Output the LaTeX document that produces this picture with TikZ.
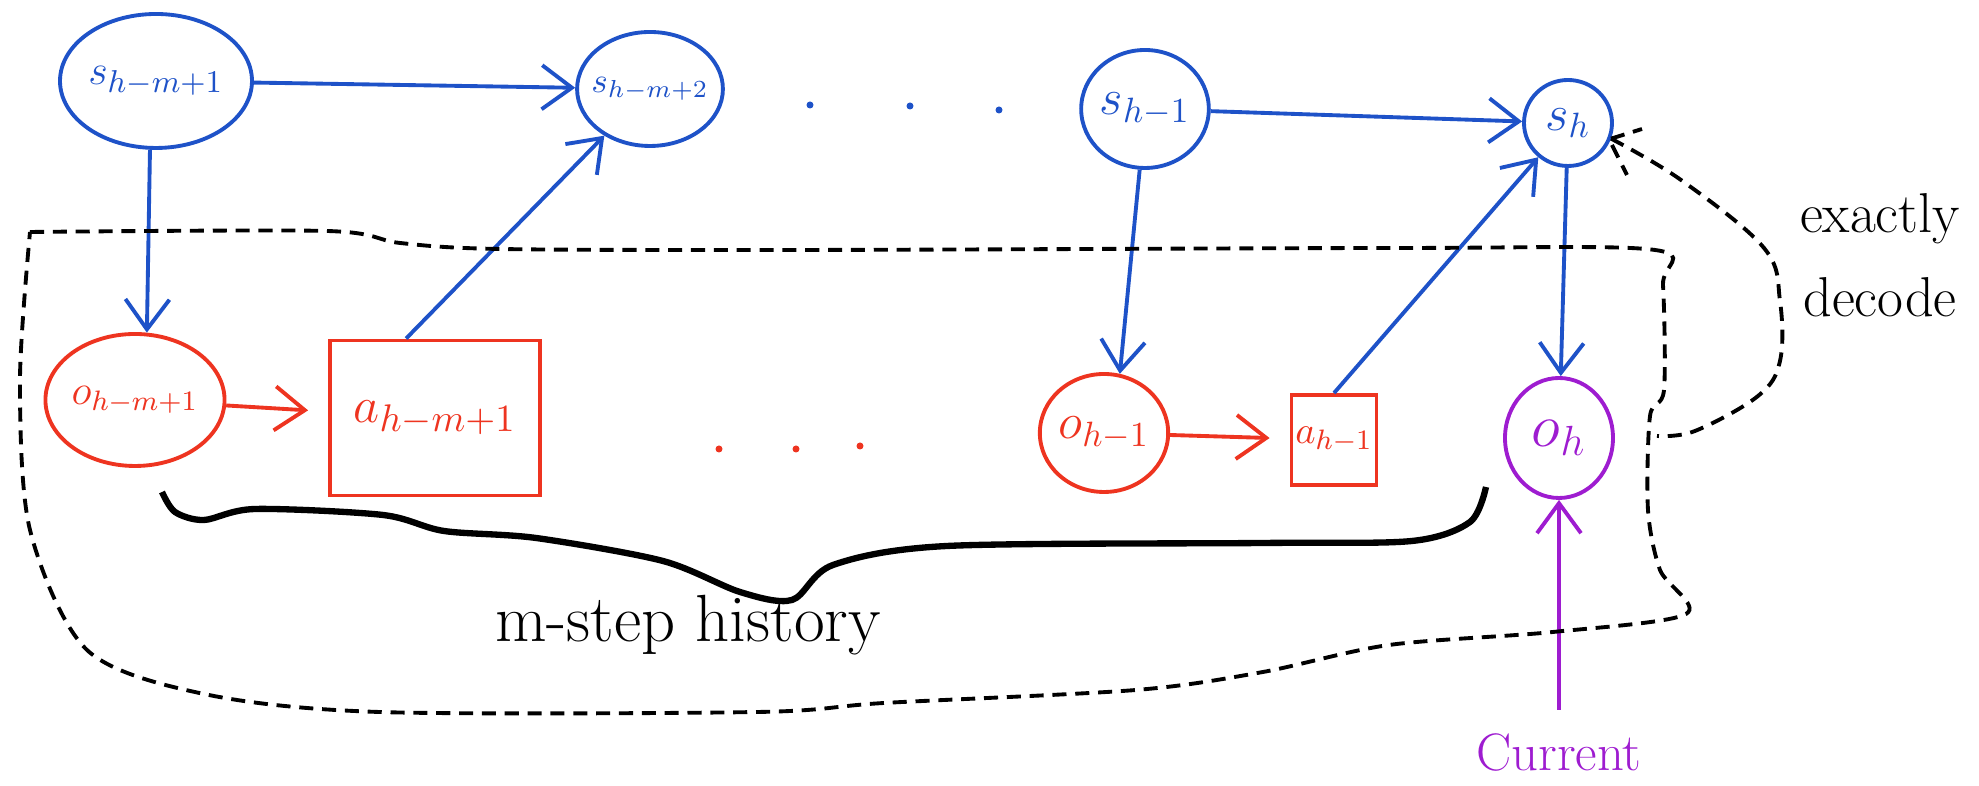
\documentclass[tikz,border=0pt]{standalone}
\usepackage{tikz}
\usetikzlibrary{positioning,arrows.meta,shapes.geometric}

\definecolor{penblue}{RGB}{30,82,200}
\definecolor{penred}{RGB}{238,52,32}
\definecolor{penpurple}{RGB}{158,28,208}

\begin{document}
\begin{tikzpicture}[->,>={Straight Barb[length=3mm,width=4.4mm]},line width=1.1pt]

  % styles
  \tikzstyle{state}=[ellipse,draw=penblue,text=penblue,inner sep=0pt]
  \tikzstyle{obs}=[ellipse,draw=penred,text=penred,inner sep=0pt]
  \tikzstyle{act}=[rectangle,draw=penred,text=penred,inner sep=1pt]
  \tikzstyle{region}=[-,black,dash pattern=on 4pt off 2.5pt,line width=1.1pt]

  \useasboundingbox (0,0) rectangle (19.79,7.86);

  % latent states
  \node[state,minimum width=1.92cm,minimum height=1.34cm,font=\fontsize{13}{15}\selectfont] (s1) at (1.56,7.05) {$s_{h-m+1}$};
  \node[state,minimum width=1.22cm,minimum height=1.14cm,inner xsep=-2pt,font=\fontsize{10}{12}\selectfont] (s2) at (6.50,6.97) {$s_{h-m+2}$};
  \node[state,minimum width=1.16cm,minimum height=1.18cm,font=\fontsize{14}{16}\selectfont] (sh1) at (11.45,6.77) {$s_{h-1}$};
  \node[state,minimum width=0.88cm,minimum height=0.86cm,font=\fontsize{14}{16}\selectfont] (sh) at (15.68,6.63) {$s_h$};

  % observations and actions
  \node[obs,minimum width=1.68cm,minimum height=1.32cm,font=\fontsize{12}{14}\selectfont] (o1) at (1.35,3.86) {$o_{h-m+1}$};
  \node[act,minimum width=2.1cm,minimum height=1.55cm,font=\fontsize{15}{17}\selectfont] (a1) at (4.35,3.68) {$a_{h-m+1}$};
  \node[obs,minimum width=1.26cm,minimum height=1.18cm,font=\fontsize{14}{16}\selectfont] (oh1) at (11.04,3.53) {$o_{h-1}$};
  \node[act,minimum width=0.85cm,minimum height=0.9cm,font=\fontsize{11}{13}\selectfont] (ah1) at (13.34,3.46) {$a_{h-1}$};
  \node[ellipse,draw=penpurple,text=penpurple,inner sep=0pt,minimum width=1.08cm,minimum height=1.2cm,font=\fontsize{18}{20}\selectfont] (oh) at (15.59,3.48) {$o_h$};

  % dots between the columns
  \foreach \x/\y in {8.10/6.81,9.10/6.80,9.99/6.76}
    \fill[penblue] (\x,\y) circle (0.035);
  \foreach \x/\y in {7.19/3.37,7.96/3.37,8.60/3.40}
    \fill[penred] (\x,\y) circle (0.035);

  % transitions
  \draw[penblue] (s1) -- (s2);
  \draw[penblue] (s1.265) -- (o1.80);
  \draw[penblue] (a1.110) -- (s2);
  \draw[penblue] (sh1) -- (sh);
  \draw[penblue] (sh1.265) -- (oh1.75);
  \draw[penblue] (ah1.north) -- (sh);
  \draw[penblue] (sh) -- (oh);
  \draw[penred,shorten >=2mm] (o1) -- (a1);
  \draw[penred,shorten >=2mm] (oh1) -- (ah1);

  % current observation
  \node[text=penpurple,font=\fontsize{15}{17}\selectfont] (cur) [below=2.2cm of oh] {Current};
  \draw[penpurple,shorten <=1mm] (cur) -- (oh);

  % history window
  \draw[region] plot[smooth,tension=0.5] coordinates {(0.30,5.54) (3.27,5.55) (4.00,5.43) (5.00,5.37) (8.00,5.36) (14.00,5.38) (16.55,5.36) (16.63,5.01) (16.64,3.96) (16.50,3.70) (16.48,2.76) (16.60,2.16) (16.86,1.72) (15.53,1.54) (13.89,1.41) (12.63,1.14) (11.36,0.96) (8.84,0.83) (7.58,0.74) (3.79,0.74) (2.04,0.92) (0.87,1.36) (0.30,2.56) (0.20,4.06) (0.30,5.54)};

  % decoding loop
  \draw[region] plot[smooth,tension=0.6] coordinates {(sh.-20) (16.81,6.06) (17.64,5.38) (17.80,4.85) (17.80,4.25) (17.58,3.90) (16.95,3.55) (16.57,3.50)};
  \draw[region] (sh.-20) -- (16.42,6.57);
  \draw[region] (16.12,6.41) -- (16.27,6.11);
  \node[align=center,font=\fontsize{16}{24}\selectfont] (dec) at (18.80,5.31) {exactly\\decode};

  % brace
  \draw[-,line width=1.8pt] plot[smooth,tension=0.5] coordinates {(1.62,2.94) (1.75,2.74) (2.04,2.66) (2.55,2.77) (3.83,2.71) (4.44,2.55) (5.36,2.48) (6.63,2.25) (7.40,1.94) (7.92,1.86) (8.33,2.21) (9.47,2.40) (12.63,2.43) (14.12,2.45) (14.70,2.64) (14.86,2.99)};
  \node[anchor=base,font=\fontsize{19}{22}\selectfont] (hist) at (6.88,1.44) {m-step history};

\end{tikzpicture}
\end{document}
